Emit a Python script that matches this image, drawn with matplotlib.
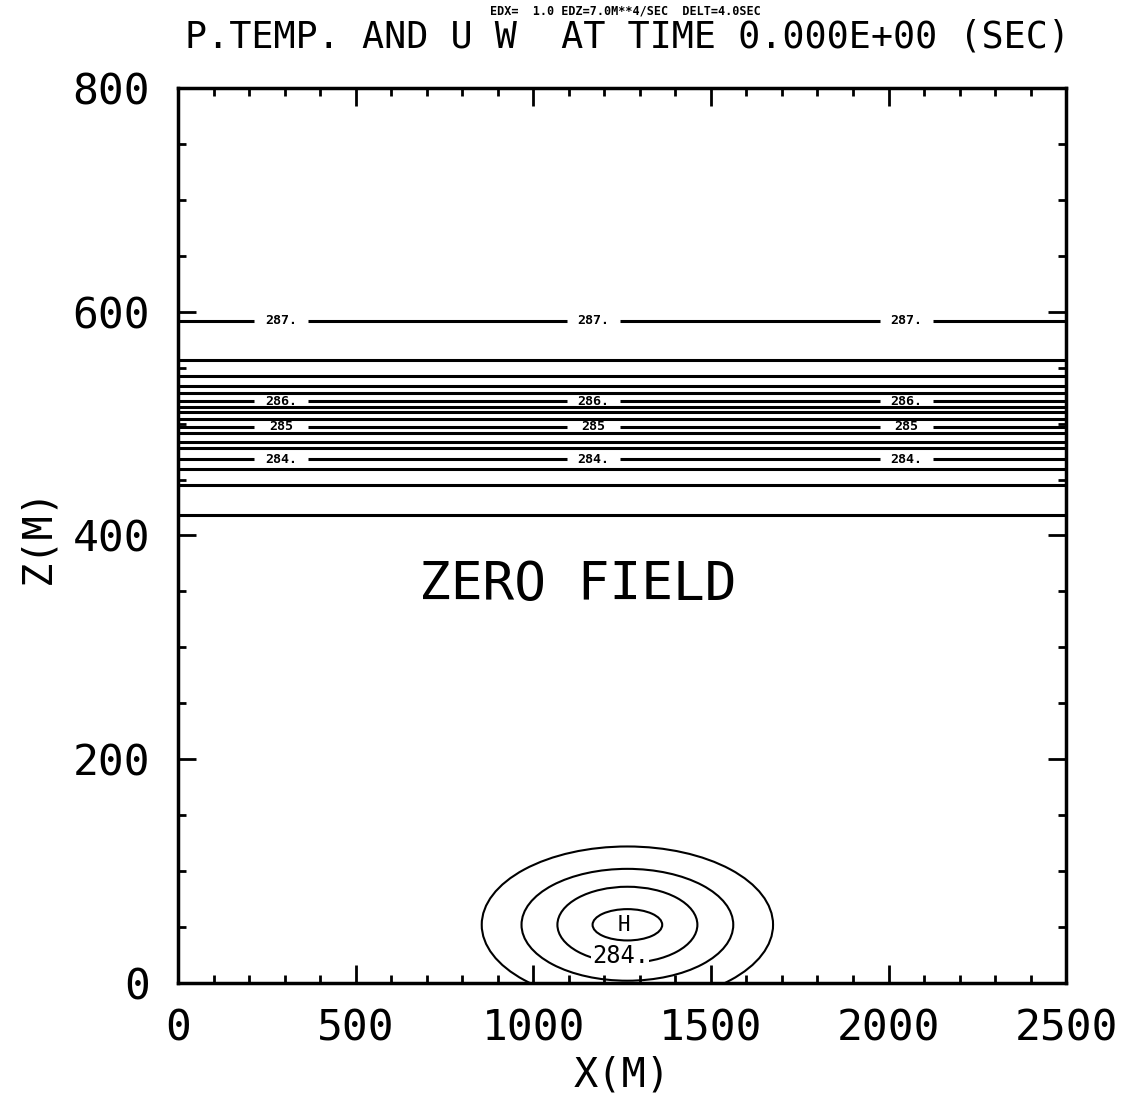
import numpy as np
import matplotlib
matplotlib.use('Agg')
import matplotlib.pyplot as plt
from matplotlib.patches import Ellipse
from matplotlib.ticker import MultipleLocator

# plotter-style lettering: fixed width
plt.rcParams['font.family'] = ['DejaVu Sans Mono']

# horizontal isentropes (height in m)
line_z = [418, 445, 459, 468, 478, 484, 492, 497, 504, 510, 515, 520, 527, 534, 543, 557, 592]
# labelled lines: text and height
label_text = ['284.', '285', '286.', '287.']
label_z = [468, 497, 520, 592]
label_x = [290, 1170, 2050]

# warm bubble near the ground
bubble_x = 1265
bubble_z = 52
bubble_halfwidth = [98, 197, 298, 410]
bubble_halfheight = [14, 34, 50, 70]

fig = plt.figure(figsize=(11.3, 11), dpi=100)
ax = fig.add_axes([0.1575, 0.1064, 0.786, 0.8136])
ax.set_xlim(0, 2500)
ax.set_ylim(0, 800)

gap = 75
for z in line_z:
    if z in label_z:
        i = label_z.index(z)
        edges = [0]
        for lx in label_x:
            edges += [lx - gap, lx + gap]
        edges.append(2500)
        for a, b in zip(edges[::2], edges[1::2]):
            ax.plot([a, b], [z, z], color='black', lw=2.2, solid_capstyle='butt')
        for lx in label_x:
            ax.text(lx, z, label_text[i], ha='center', va='center',
                    fontsize=9.5, fontweight='bold')
    else:
        ax.plot([0, 2500], [z, z], color='black', lw=2.2)

for w, h in zip(bubble_halfwidth, bubble_halfheight):
    e = Ellipse((bubble_x, bubble_z), 2 * w, 2 * h, fill=False, color='black', lw=1.5)
    e.set_clip_path(ax.patch)
    ax.add_patch(e)
ax.text(bubble_x - 10, bubble_z, 'H', ha='center', va='center', fontsize=15)
ax.text(bubble_x - 20, 24, '284.', ha='center', va='center', fontsize=17,
        bbox=dict(boxstyle='square,pad=0.02', fc='white', ec='none'))

ax.text(1126, 356, 'ZERO FIELD', ha='center', va='center', fontsize=38)

ax.xaxis.set_major_locator(MultipleLocator(500))
ax.xaxis.set_minor_locator(MultipleLocator(100))
ax.yaxis.set_major_locator(MultipleLocator(200))
ax.yaxis.set_minor_locator(MultipleLocator(50))
ax.tick_params(which='both', direction='in', top=True, right=True, width=2)
ax.tick_params(which='major', length=13, labelsize=31)
ax.tick_params(axis='x', which='major', pad=18)
ax.tick_params(axis='y', which='major', pad=20)
ax.tick_params(which='minor', length=6)
for s in ax.spines.values():
    s.set_linewidth(2.5)

ax.set_xlabel('X(M)', fontsize=29, labelpad=4)
ax.set_ylabel('Z(M)', fontsize=29, labelpad=10)

fig.text(0.555, 0.966, 'P.TEMP. AND U W  AT TIME 0.000E+00 (SEC)', ha='center',
         va='center', fontsize=26.5)
fig.text(0.553, 0.99, 'EDX=  1.0 EDZ=7.0M**4/SEC  DELT=4.0SEC', ha='center',
         va='center', fontsize=8.5, fontweight='bold')

fig.savefig('out.png', dpi=100)
